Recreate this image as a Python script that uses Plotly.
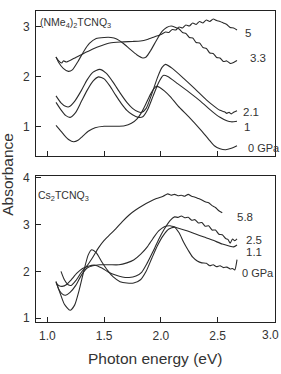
import plotly.graph_objects as go

# ---------------- data: top panel (NMe4)2TCNQ3 ----------------
t0_x = [1.076,1.11,1.15,1.19,1.23,1.27,1.31,1.36,1.42,1.50,1.60,1.68,1.74,1.79,1.83,1.87,1.91,1.94,1.96,1.99,2.03,2.08,2.15,2.25,2.35,2.42,2.47,2.52,2.57,2.62,2.67]
t0_y = [1.02,0.93,0.82,0.73,0.69,0.72,0.80,0.90,0.97,1.00,1.00,1.01,1.06,1.15,1.28,1.46,1.65,1.76,1.80,1.78,1.71,1.60,1.41,1.18,0.93,0.74,0.61,0.55,0.53,0.56,0.61]

t1_x = [1.076,1.12,1.16,1.20,1.25,1.30,1.35,1.40,1.45,1.50,1.55,1.60,1.65,1.70,1.75,1.80,1.84,1.88,1.93,1.98,2.02,2.06,2.15,2.25,2.35,2.45,2.52,2.58,2.62,2.67]
t1_y = [1.48,1.33,1.22,1.18,1.28,1.50,1.72,1.90,1.99,1.95,1.81,1.63,1.46,1.32,1.23,1.18,1.19,1.32,1.60,1.88,2.02,2.00,1.85,1.68,1.50,1.30,1.18,1.11,1.09,1.10]

t2_x = [1.076,1.12,1.16,1.19,1.24,1.30,1.35,1.40,1.46,1.52,1.58,1.64,1.70,1.75,1.80,1.83,1.87,1.92,1.97,2.01,2.04,2.10,2.20,2.30,2.40,2.47,2.52,2.56,2.58,2.60,2.62,2.64,2.67]
t2_y = [1.61,1.47,1.40,1.39,1.50,1.72,1.93,2.08,2.14,2.06,1.88,1.67,1.48,1.36,1.29,1.28,1.36,1.65,1.98,2.18,2.24,2.16,1.96,1.75,1.53,1.40,1.32,1.29,1.26,1.28,1.25,1.28,1.31]

t3_x = [1.076,1.10,1.14,1.185,1.22,1.27,1.32,1.37,1.43,1.50,1.56,1.61,1.67,1.73,1.79,1.84,1.87,1.91,1.96,2.01,2.05,2.09,2.13,2.16,2.19,2.22,2.25,2.28,2.31,2.34,2.37,2.40,2.43,2.46,2.49,2.52,2.55,2.58,2.61,2.64,2.67]
t3_y = [2.39,2.28,2.16,2.10,2.13,2.30,2.50,2.66,2.76,2.78,2.78,2.75,2.66,2.54,2.43,2.37,2.39,2.52,2.72,2.90,2.98,3.01,2.98,2.95,2.88,2.86,2.78,2.77,2.68,2.67,2.58,2.56,2.47,2.46,2.38,2.37,2.30,2.31,2.26,2.28,2.32]

t5_x = [1.076,1.10,1.127,1.14,1.17,1.25,1.32,1.40,1.48,1.55,1.65,1.75,1.82,1.88,1.94,2.00,2.04,2.07,2.10,2.13,2.16,2.19,2.22,2.25,2.28,2.31,2.34,2.37,2.40,2.43,2.46,2.49,2.52,2.55,2.58,2.61,2.64,2.67]
t5_y = [2.39,2.31,2.27,2.31,2.29,2.38,2.46,2.55,2.62,2.67,2.69,2.70,2.71,2.74,2.79,2.84,2.89,2.88,2.94,2.93,2.99,2.97,3.03,3.01,3.07,3.04,3.10,3.07,3.13,3.10,3.15,3.12,3.10,3.07,3.04,2.98,2.97,2.93]

# ---------------- data: bottom panel Cs2TCNQ3 ----------------
b0_x = [1.076,1.11,1.15,1.20,1.24,1.28,1.32,1.36,1.39,1.43,1.48,1.53,1.58,1.64,1.70,1.76,1.82,1.87,1.92,1.97,2.02,2.07,2.12,2.16,2.20,2.24,2.28,2.32,2.36,2.40,2.43,2.46,2.49,2.52,2.55,2.58,2.61,2.63,2.65,2.67]
b0_y = [1.78,1.55,1.30,1.17,1.28,1.60,2.00,2.35,2.46,2.40,2.20,2.02,1.88,1.78,1.75,1.75,1.82,2.00,2.28,2.55,2.76,2.90,2.94,2.82,2.62,2.45,2.30,2.22,2.18,2.17,2.12,2.14,2.10,2.12,2.08,2.09,2.05,2.06,2.03,2.25]

b1_x = [1.076,1.10,1.13,1.16,1.20,1.25,1.30,1.35,1.40,1.46,1.55,1.63,1.70,1.76,1.82,1.88,1.93,1.98,2.03,2.08,2.14,2.22,2.30,2.38,2.46,2.54,2.60,2.64,2.67]
b1_y = [1.78,1.62,1.52,1.49,1.55,1.70,1.92,2.07,2.12,2.14,2.14,2.14,2.18,2.24,2.36,2.52,2.70,2.86,2.95,2.97,2.93,2.87,2.80,2.73,2.66,2.58,2.54,2.52,2.56]

b2_x = [1.076,1.10,1.13,1.17,1.21,1.26,1.31,1.36,1.42,1.48,1.54,1.60,1.66,1.72,1.78,1.83,1.88,1.93,1.98,2.03,2.08,2.12,2.15,2.18,2.21,2.24,2.27,2.30,2.33,2.36,2.39,2.42,2.45,2.48,2.51,2.54,2.57,2.59,2.61,2.63,2.65,2.67]
b2_y = [1.75,1.70,1.68,1.72,1.82,1.96,2.06,2.11,2.13,2.07,1.98,1.92,1.88,1.87,1.90,1.98,2.18,2.42,2.68,2.90,3.08,3.16,3.15,3.18,3.14,3.15,3.09,3.10,3.03,3.04,2.96,2.97,2.88,2.88,2.79,2.78,2.70,2.68,2.60,2.69,2.65,2.69]

b5_x = [1.12,1.15,1.18,1.21,1.25,1.30,1.35,1.40,1.45,1.50,1.55,1.60,1.66,1.72,1.78,1.84,1.90,1.96,2.02,2.06,2.09,2.12,2.15,2.18,2.21,2.24,2.27,2.30,2.33,2.36,2.39,2.42,2.45,2.48,2.51,2.54]
b5_y = [2.00,1.82,1.72,1.70,1.80,1.98,2.12,2.30,2.50,2.66,2.78,2.90,3.06,3.20,3.31,3.40,3.48,3.55,3.60,3.65,3.62,3.64,3.61,3.62,3.60,3.64,3.60,3.58,3.55,3.52,3.48,3.46,3.40,3.36,3.29,3.25]

x_ticks = [1.0, 1.5, 2.0, 2.5]
x_ticklabels = ["1.0", "1.5", "2.0", "2.5"]
x_last_label = "3.0"   # drawn at the right edge, partly cut like the original
top_yticks = [1, 2, 3]
bot_yticks = [1, 2, 3, 4]

W, H = 281, 374
def px(x): return x / W
def py(y): return 1 - y / H

LINE = dict(color="#2b2b2b", width=1.1)
fig = go.Figure()
for xs, ys in [(t0_x, t0_y), (t1_x, t1_y), (t2_x, t2_y), (t3_x, t3_y), (t5_x, t5_y)]:
    fig.add_trace(go.Scatter(x=xs, y=ys, mode="lines", line=dict(LINE, shape="spline", smoothing=0.6),
                             xaxis="x", yaxis="y", showlegend=False, hoverinfo="skip"))
for xs, ys in [(b0_x, b0_y), (b1_x, b1_y), (b2_x, b2_y), (b5_x, b5_y)]:
    fig.add_trace(go.Scatter(x=xs, y=ys, mode="lines", line=dict(LINE, shape="spline", smoothing=0.6),
                             xaxis="x2", yaxis="y2", showlegend=False, hoverinfo="skip"))

font = "Liberation Sans, Arial, sans-serif"
axcommon = dict(showline=True, linecolor="#222", linewidth=1, mirror=True, ticks="inside",
                ticklen=5, tickcolor="#222", showgrid=False, zeroline=False,
                tickfont=dict(family=font, size=12, color="#333"))
xdom = [px(36), px(274.5)]
xrange = [0.90, 3.0]
fig.update_layout(
    width=W, height=H, margin=dict(l=0, r=0, t=0, b=0),
    paper_bgcolor="white", plot_bgcolor="white",
    xaxis=dict(axcommon, domain=xdom, range=xrange, tickvals=x_ticks, showticklabels=False, anchor="y"),
    yaxis=dict(axcommon, domain=[py(155), py(6)], range=[0.40, 3.313], tickvals=top_yticks, anchor="x",
               ticklabelstandoff=3),
    xaxis2=dict(axcommon, domain=xdom, range=xrange, tickvals=x_ticks, ticktext=x_ticklabels, anchor="y2",
                ticklabelstandoff=3),
    yaxis2=dict(axcommon, domain=[py(324.7), py(175)], range=[0.923, 4.035], tickvals=bot_yticks, anchor="x2",
                ticklabelstandoff=3),
)

def ann(text, x, y, size=11.5, xanchor="left", angle=0):
    fig.add_annotation(text=text, x=px(x), y=py(y), xref="paper", yref="paper", showarrow=False,
                       xanchor=xanchor, yanchor="middle", textangle=angle,
                       font=dict(family=font, size=size, color="#333"))

ann("(NMe<sub>4</sub>)<sub>2</sub>TCNQ<sub>3</sub>", 37.5, 18, size=10.5)
ann("5", 243, 28.5)
ann("3.3", 248, 54.5)
ann("2.1", 241, 110)
ann("1", 242, 125)
ann("0 GPa", 246, 147, size=11)
ann("Cs<sub>2</sub>TCNQ<sub>3</sub>", 36, 196, size=10.5)
ann("5.8", 235, 217)
ann("2.5", 244, 241)
ann("1.1", 244, 253.5)
ann("0 GPa", 240, 275, size=11)
fig.add_annotation(text=x_last_label, x=1, y=py(338.5), xref="paper", yref="paper", showarrow=False,
                   xanchor="right", yanchor="middle", font=dict(family=font, size=12, color="#333"))
ann("Photon energy (eV)", 155, 362, size=15.5, xanchor="center")
ann("Absorbance", 8, 174, size=15.5, xanchor="center", angle=-90)

fig.write_html("out.html")
